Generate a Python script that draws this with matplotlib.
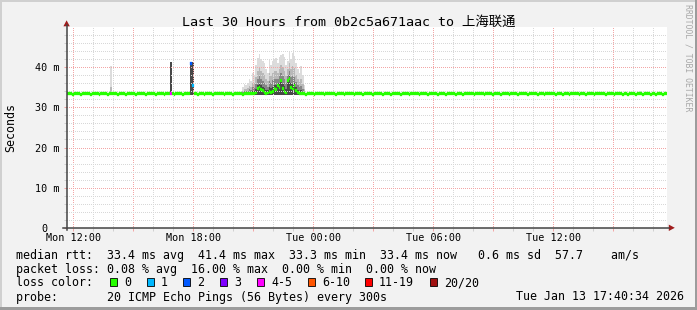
import matplotlib
matplotlib.use('Agg')
import matplotlib.pyplot as plt
import matplotlib.dates as mdates
from matplotlib.patches import Rectangle, Polygon
from matplotlib.lines import Line2D
from datetime import datetime, timedelta
import numpy as np

# ---------------- data ----------------
title = "Last 30 Hours from 0b2c5a671aac to 上海联通"
t_start = datetime(2026, 1, 12, 11, 40, 34)
t_end = datetime(2026, 1, 13, 17, 40, 34)
step_minutes = 5

median_ms = [
    33.4, 33.4, 33.4, 33.3, 33.4, 33.4, 33.4, 33.4, 33.2, 33.4, 33.4, 33.4, 33.4, 33.4, 33.3, 33.4, 33.4, 33.4, 33.4, 33.2,
    33.4, 33.4, 33.4, 33.4, 33.3, 33.4, 33.4, 33.4, 33.4, 33.4, 33.2, 33.4, 33.4, 33.4, 33.4, 33.3, 33.4, 33.4, 33.4, 33.4,
    33.4, 33.2, 33.4, 33.4, 33.4, 33.4, 33.4, 33.3, 33.4, 33.4, 33.4, 33.4, 33.4, 33.2, 33.4, 33.4, 33.4, 33.4, 33.3, 33.4,
    33.4, 33.4, 33.4, 33.4, 33.3, 33.4, 33.4, 33.4, 33.4, 33.2, 33.4, 33.4, 33.4, 33.4, 41.0, 35.5, 33.4, 33.4, 33.3, 33.4,
    33.4, 33.4, 33.2, 33.4, 33.4, 33.4, 33.4, 33.3, 33.4, 33.4, 33.4, 33.4, 33.4, 33.4, 33.2, 33.4, 33.4, 33.4, 33.4, 33.3,
    33.4, 33.4, 33.4, 33.4, 33.4, 33.3, 33.4, 33.4, 33.4, 33.4, 33.4, 33.4, 33.5, 33.6, 34.7, 35.1, 34.5, 34.2, 33.8, 33.5,
    33.6, 33.9, 33.7, 34.0, 34.8, 34.5, 35.5, 35.0, 36.7, 34.8, 34.0, 33.6, 36.7, 37.2, 35.0, 34.6, 35.5, 34.3, 33.8, 33.5,
    33.4, 33.4, 33.4, 33.3, 33.4, 33.4, 33.4, 33.4, 33.2, 33.4, 33.4, 33.4, 33.4, 33.4, 33.3, 33.4, 33.4, 33.4, 33.4, 33.4,
    33.4, 33.3, 33.4, 33.4, 33.4, 33.4, 33.2, 33.4, 33.4, 33.4, 33.4, 33.4, 33.3, 33.4, 33.4, 33.4, 33.4, 33.2, 33.4, 33.4,
    33.4, 33.4, 33.4, 33.3, 33.4, 33.4, 33.4, 33.4, 33.4, 33.2, 33.4, 33.4, 33.4, 33.4, 33.3, 33.4, 33.4, 33.4, 33.4, 33.4,
    33.2, 33.4, 33.4, 33.4, 33.4, 33.3, 33.4, 33.4, 33.4, 33.4, 33.4, 33.2, 33.4, 33.4, 33.4, 33.4, 33.3, 33.4, 33.4, 33.4,
    33.4, 33.4, 33.3, 33.4, 33.4, 33.4, 33.4, 33.2, 33.4, 33.4, 33.4, 33.4, 33.4, 33.3, 33.4, 33.4, 33.4, 33.2, 33.4, 33.4,
    33.4, 33.4, 33.4, 33.4, 33.3, 33.4, 33.4, 33.4, 33.4, 33.4, 33.2, 33.4, 33.4, 33.4, 33.4, 33.3, 33.4, 33.4, 33.4, 33.4,
    33.3, 33.4, 33.4, 33.4, 33.4, 33.2, 33.4, 33.4, 33.4, 33.4, 33.3, 33.4, 33.4, 33.4, 33.4, 33.4, 33.2, 33.4, 33.4, 33.4,
    33.4, 33.4, 33.2, 33.4, 33.4, 33.4, 33.3, 33.4, 33.4, 33.4, 33.4, 33.4, 33.4, 33.2, 33.4, 33.4, 33.4, 33.3, 33.4, 33.4,
    33.4, 33.3, 33.4, 33.4, 33.4, 33.4, 33.4, 33.2, 33.4, 33.4, 33.4, 33.3, 33.4, 33.4, 33.4, 33.4, 33.2, 33.4, 33.4, 33.4,
    33.4, 33.4, 33.4, 33.2, 33.4, 33.4, 33.4, 33.4, 33.3, 33.4, 33.4, 33.4, 33.4, 33.2, 33.4, 33.4, 33.3, 33.4, 33.4, 33.4,
    33.4, 33.2, 33.4, 33.4, 33.4, 33.3, 33.4, 33.4, 33.4, 33.4, 33.2, 33.4, 33.4, 33.3, 33.4, 33.4, 33.4, 33.2, 33.4, 33.4,
]

# packets lost (of 20) where not zero
loss_idx = [62, 74, 75]
loss_pkts = [4, 2, 1]

# smoke (ping spread) per sample: outer max and inner percentiles
smoke_idx = [26, 62, 74, 75] + list(range(105, 143)) + [344]
smoke_max = [40.3, 41.4, 41.4, 41.4,
             35.0, 35.8, 35.5, 36.0, 37.0, 36.5, 38.7, 38.0, 40.5, 42.4,
             43.4, 42.0, 41.5, 41.0, 39.5, 38.5, 41.7, 40.5, 41.5, 42.0,
             42.2, 41.0, 42.5, 43.0, 43.3, 42.5, 40.5, 41.5, 43.8, 42.0,
             43.5, 42.8, 41.0, 39.5, 38.5, 40.4, 38.0, 35.5,
             34.2]
smoke_p90 = [35.0, 41.4, 41.4, 41.4,
             34.2, 34.6, 34.5, 34.8, 35.4, 35.0, 36.2, 36.0, 37.5, 39.0,
             40.0, 39.0, 38.5, 38.0, 37.0, 36.5, 38.5, 37.8, 38.6, 39.2,
             39.0, 38.6, 39.5, 40.5, 40.0, 39.2, 37.8, 39.5, 41.0, 39.5,
             40.2, 39.8, 38.2, 37.0, 36.4, 37.2, 35.8, 34.5,
             33.8]
smoke_p75 = [33.8, 41.4, 41.4, 41.4,
             33.8, 34.0, 34.0, 34.2, 34.6, 34.4, 35.0, 34.8, 35.8, 37.0,
             38.0, 37.0, 36.5, 36.0, 35.5, 35.2, 36.5, 36.0, 36.8, 37.2,
             37.0, 37.0, 37.8, 38.6, 37.8, 37.0, 36.0, 38.0, 39.0, 37.5,
             37.8, 37.6, 36.4, 35.5, 35.0, 35.4, 34.6, 33.9,
             33.5]
smoke_p60 = [33.5, 41.4, 41.4, 41.4,
             33.6, 33.7, 33.7, 33.8, 34.0, 33.9, 34.2, 34.0, 34.6, 35.5,
             36.0, 35.6, 35.2, 34.8, 34.4, 34.3, 35.0, 34.8, 35.2, 35.6,
             35.5, 36.0, 36.0, 37.2, 35.8, 35.4, 34.6, 37.2, 37.8, 36.0,
             35.8, 36.2, 35.0, 34.4, 34.2, 34.3, 33.9, 33.6,
             33.4]

y_ticks = [0, 10, 20, 30, 40]
y_tick_labels = ["0  ", "10 m", "20 m", "30 m", "40 m"]
x_label_times = [datetime(2026, 1, 12, 12), datetime(2026, 1, 12, 18), datetime(2026, 1, 13, 0),
                 datetime(2026, 1, 13, 6), datetime(2026, 1, 13, 12)]
x_tick_labels = ["Mon 12:00", "Mon 18:00", "Tue 00:00", "Tue 06:00", "Tue 12:00"]

loss_labels = ["0", "1", "2", "3", "4-5", "6-10", "11-19", "20/20"]
loss_colors = ['#26ff00', '#00b8ff', '#0059ff', '#7e00ff', '#ff00ff', '#ff5500', '#ff0000', '#a01010']

stat_rtt = "median rtt:  33.4 ms avg  41.4 ms max  33.3 ms min  33.4 ms now   0.6 ms sd  57.7    am/s"
stat_loss = "packet loss: 0.08 % avg  16.00 % max  0.00 % min  0.00 % now"
stat_probe = "probe:       20 ICMP Echo Pings (56 Bytes) every 300s"
stamp = "Tue Jan 13 17:40:34 2026"
ylabel = "Seconds"
watermark = "RRDTOOL / TOBI OETIKER"

# ---------------- figure ----------------
W, H = 697, 310
MONO = ['DejaVu Sans Mono', 'Noto Sans CJK SC']
BG = '#f2f2f2'

fig = plt.figure(figsize=(W / 100, H / 100), dpi=100, facecolor=BG)

def fx(px):
    return px / W

def fy(py):
    return 1 - py / H

# border
fig.patches.append(Rectangle((0, fy(2)), 1, 2 / H, transform=fig.transFigure, color='#d0d0d0', lw=0))
fig.patches.append(Rectangle((0, 0), 2 / W, 1, transform=fig.transFigure, color='#d0d0d0', lw=0))
fig.patches.append(Rectangle((fx(695), 0), 2 / W, 1, transform=fig.transFigure, color='#9c9c9c', lw=0))
fig.patches.append(Rectangle((0, 0), 1, 3 / H, transform=fig.transFigure, color='#9c9c9c', lw=0))

ax_l, ax_r, ax_t, ax_b = 67, 667, 27.2, 227.7
ax = fig.add_axes([fx(ax_l), fy(ax_b), (ax_r - ax_l) / W, (ax_b - ax_t) / H])
ax.set_facecolor('white')
for s in ax.spines.values():
    s.set_visible(False)

x0 = mdates.date2num(t_start)
x1 = mdates.date2num(t_end)
step = step_minutes / 1440.0
n = len(median_ms)
xs = x0 + np.arange(n) * step

# smoke
sx = x0 + np.array(smoke_idx) * step
base = 33.0
for vals, shade in [(smoke_max, '#dcdcdc'), (smoke_p90, '#b8b8b8'), (smoke_p75, '#868686'), (smoke_p60, '#484848')]:
    v = np.array(vals)
    ax.bar(sx, v - base, bottom=base, width=step, align='edge', color=shade, lw=0, zorder=1)

# median, colored by packet loss
def loss_color(p):
    if p == 0:
        return loss_colors[0]
    if p <= 3:
        return loss_colors[p]
    if p <= 5:
        return loss_colors[4]
    if p <= 10:
        return loss_colors[5]
    if p <= 19:
        return loss_colors[6]
    return loss_colors[7]

pkts = [0] * n
for i, p in zip(loss_idx, loss_pkts):
    pkts[i] = p
mcolors = [loss_color(p) for p in pkts]
med = np.array(median_ms)
thick = 0.72
ax.bar(xs, thick, bottom=med - thick / 2, width=step, align='edge', color=mcolors,
       edgecolor=mcolors, lw=0.2, zorder=3)

ax.set_xlim(x0, x1)
ax.set_ylim(0, 50)

# grid / ticks
major_times = [datetime(2026, 1, 12, 12) + timedelta(hours=3 * k) for k in range(10)]
lbl_map = dict(zip(x_label_times, x_tick_labels))
ax.set_xticks(mdates.date2num(major_times))
ax.set_xticklabels([lbl_map.get(t, '') for t in major_times])
ax.xaxis.set_minor_locator(mdates.HourLocator())
ax.set_yticks(y_ticks)
ax.set_yticklabels(y_tick_labels)
ax.set_yticks(np.arange(0, 50, 2), minor=True)

ax.set_axisbelow(False)
dash = (0, (1, 2))
ax.grid(which='major', color='#f3a6a6', linestyle=dash, linewidth=0.72, antialiased=False)
ax.grid(which='minor', color='#d8d8d8', linestyle=dash, linewidth=0.72, antialiased=False)
ax.tick_params(which='major', direction='out', length=2.2, width=0.72, color='#f3a6a6',
               labelsize=7.25, labelfontfamily='DejaVu Sans Mono', labelcolor='#000000')
ax.tick_params(which='minor', direction='out', length=2.2, width=0.72, color='#d0d0d0')
ax.tick_params(axis='y', which='major', pad=2.9)
ax.tick_params(axis='x', which='major', pad=1.6)

# axis lines with arrows
axis_col = '#444444'
fig.add_artist(Line2D([fx(66.6), fx(66.6)], [fy(230), fy(25)], color=axis_col, lw=1.1, transform=fig.transFigure))
fig.add_artist(Line2D([fx(62.5), fx(669)], [fy(227.8), fy(227.8)], color=axis_col, lw=1.1, transform=fig.transFigure))
arrow_col = '#a01c1c'
fig.patches.append(Polygon([(fx(66.6), fy(20.3)), (fx(63.4), fy(26.3)), (fx(69.8), fy(26.3))],
                           closed=True, transform=fig.transFigure, color=arrow_col, lw=0))
fig.patches.append(Polygon([(fx(674.8), fy(227.8)), (fx(668.8), fy(224.6)), (fx(668.8), fy(231.0))],
                           closed=True, transform=fig.transFigure, color=arrow_col, lw=0))

# texts
fig.text(fx(348.5), fy(22), title, ha='center', va='center', fontsize=9.6, family=MONO, color='#000000')
fig.text(fx(10.8), fy(127.5), ylabel, ha='center', va='center', rotation=90, fontsize=8.37,
         family=MONO, color='#000000')
fig.text(fx(688), fy(4.5), watermark, ha='center', va='top', rotation=270, fontsize=5.9,
         family=MONO, color='#a8a8a8')

leg_fs = 8.37
fig.text(fx(16), fy(255), stat_rtt, ha='left', va='center', fontsize=leg_fs, family=MONO)
fig.text(fx(16), fy(269), stat_loss, ha='left', va='center', fontsize=leg_fs, family=MONO)
fig.text(fx(16), fy(283), "loss color:", ha='left', va='center', fontsize=leg_fs, family=MONO)
box_x = [110, 147, 183, 220, 257, 308, 365, 430]
for bx, lab, col in zip(box_x, loss_labels, loss_colors):
    fig.patches.append(Rectangle((fx(bx), fy(286.3)), 7.3 / W, 8 / H, transform=fig.transFigure,
                                 facecolor=col, edgecolor='#000000', lw=0.6))
    fig.text(fx(bx + 14), fy(283), lab, ha='left', va='center', fontsize=leg_fs, family=MONO)
fig.text(fx(16), fy(297), stat_probe, ha='left', va='center', fontsize=leg_fs, family=MONO)
fig.text(fx(683.5), fy(297), stamp, ha='right', va='center', fontsize=leg_fs, family=MONO)

fig.savefig('out.png', dpi=100, facecolor=BG)
